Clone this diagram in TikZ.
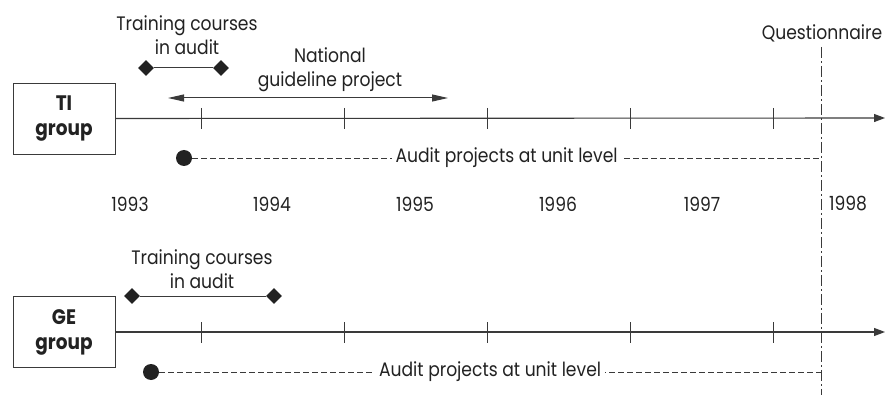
\documentclass[tikz,border=0pt]{standalone}
\usepackage{fontspec}
\setmainfont{Poppins}[FakeStretch=0.88]
\usetikzlibrary{arrows.meta,shapes.geometric}
\definecolor{ink}{HTML}{222222}
\definecolor{rule}{HTML}{3A3A3A}
\begin{document}
\begin{tikzpicture}[x=1pt,y=-1pt,
  txt/.style={font=\fontsize{19.5}{24}\selectfont, text=ink, inner sep=1pt, align=center},
  groupbox/.style={draw=rule, line width=0.9pt, minimum width=102pt, minimum height=71pt, inner sep=0pt,
    font=\bfseries\fontsize{21}{25}\selectfont, text=ink, align=center},
  axis/.style={draw=rule, line width=1.1pt, -{Triangle[length=11pt,width=8pt]}},
  tickmark/.style={draw=rule, line width=0.9pt},
  span/.style={draw=rule, line width=1pt},
  gem/.style={diamond, fill=ink, inner sep=0pt, minimum width=16pt, minimum height=16pt},
  dotend/.style={circle, fill=ink, inner sep=0pt, minimum size=16pt},
  unitline/.style={draw=rule, line width=0.9pt, dash pattern=on 6pt off 3pt},
  cutoff/.style={draw=rule, line width=0.9pt, dash pattern=on 11pt off 3pt on 2pt off 3pt},
  twoway/.style={draw=rule, line width=1pt, {Triangle[length=16pt,width=7pt]}-{Triangle[length=16pt,width=7pt]}}
]
\useasboundingbox (0,0) rectangle (885,395);

% --- TI group timeline ---
\node[groupbox] (ti) at (64,118.5) {TI\\group};
\coordinate (tiend) at (885,118);
\draw[axis] (ti.east) -- (tiend);
\foreach \x in {201,344,487,630,773} \draw[tickmark] (\x,108) -- (\x,129);

\node[gem] (tiA) at (146,68) {};
\node[gem] (tiB) at (221,68) {};
\draw[span] (tiA) -- (tiB);
\node[txt] (titrain) at (187,35) {Training courses\\in audit};

\coordinate (ngL) at (168,98);
\coordinate (ngR) at (448,98);
\draw[twoway] (ngL) -- (ngR);
\node[txt] (ngtext) at (330,70) {National\\guideline project};

\node[dotend] (tidot) at (184,158) {};
\coordinate (tistop) at (821,158);
\draw[unitline] (tidot) -- node[txt, fill=white, inner xsep=4pt] (tiunit) {Audit projects at unit level} (tistop);

% --- year labels ---
\foreach \x/\y in {130/1993,272/1994,415/1995,558/1996,702/1997,848/1998}
  \node[txt] (y\y) at (\x,204) {\y};

% --- GE group timeline ---
\node[groupbox] (ge) at (64,332) {GE\\group};
\coordinate (geend) at (885,332);
\draw[axis] (ge.east) -- (geend);
\foreach \x in {201,344,487,630,773} \draw[tickmark] (\x,322) -- (\x,343);

\node[gem] (geA) at (132,296) {};
\node[gem] (geB) at (274,296) {};
\draw[span] (geA) -- (geB);
\node[txt] (getrain) at (202,269) {Training courses\\in audit};

\node[dotend] (gedot) at (151,372) {};
\coordinate (gestop) at (821,372);
\draw[unitline] (gedot) -- node[txt, fill=white, inner xsep=4pt] (geunit) {Audit projects at unit level} (gestop);

% --- questionnaire cut-off ---
\node[txt] (quest) at (822,33) {Questionnaire};
\coordinate (qbottom) at (821,395);
\draw[cutoff] (quest.south -| tistop) ++(0,4) -- (qbottom);
\end{tikzpicture}
\end{document}
